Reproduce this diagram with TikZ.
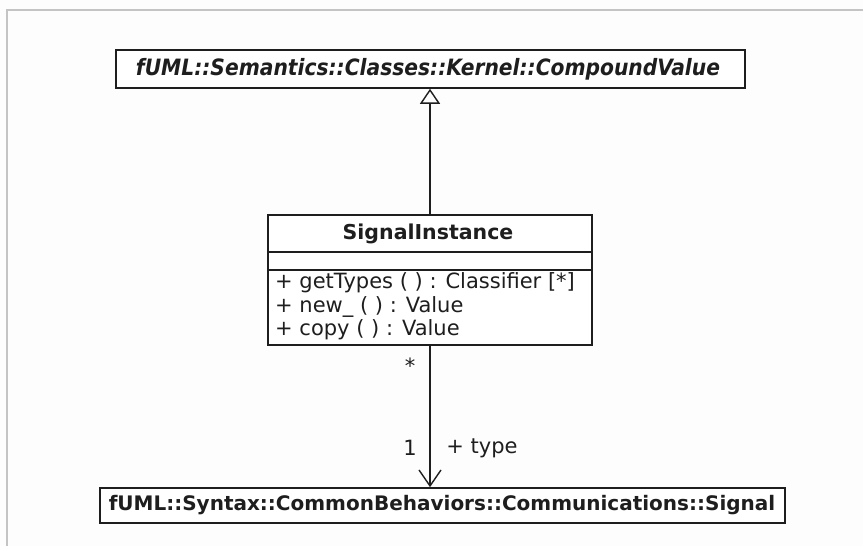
\documentclass[tikz,border=0pt]{standalone}
\usepackage{fontspec}
\setmainfont{DejaVu Sans}
\newfontfamily\condfont{DejaVu Sans Condensed}
\usetikzlibrary{arrows.meta}
\definecolor{ink}{HTML}{1E1E1E}
\definecolor{frame}{HTML}{C4C4C4}
\definecolor{paper}{HTML}{FDFDFD}
\tikzset{
  classbox/.style={draw=ink, line width=1.6pt, inner sep=0pt, fill=white},
  txt/.style={inner sep=0pt, text=ink, font=\fontsize{21}{23.5}\selectfont},
  conn/.style={draw=ink, line width=1.4pt},
}
\begin{document}
\begin{tikzpicture}[x=1pt, y=-1pt]
\fill[paper] (0,0) rectangle (863,546);
\useasboundingbox (0,0) rectangle (863,546);
\draw[frame, line width=1.5pt] (7,546) -- (7,10) -- (863,10);

% top class
\node[classbox, minimum width=629pt, minimum height=38pt] (top) at (430.5,69) {};
\node[txt, font=\fontsize{22.5}{24}\selectfont\condfont\bfseries\itshape] (toptxt) at (428,69.5) {fUML::Semantics::Classes::Kernel::CompoundValue};

% SignalInstance class
\node[classbox, minimum width=324pt, minimum height=130pt] (si) at (430,280) {};
\node[txt, font=\fontsize{20.5}{23.5}\selectfont\bfseries] (siname) at (428,234) {SignalInstance};
\coordinate (l1) at (268,252);
\coordinate (l2) at (268,270);
\draw[ink, line width=1.5pt] (l1) -- (l1 -| si.east);
\draw[ink, line width=1.5pt] (l2) -- (l2 -| si.east);
\node[txt, anchor=mid west] (op1) at (275,286) {+ getTypes ( ) : Classifier [*]};
\node[txt, anchor=mid west] (op2) at (275,309.5) {+ new\_ ( ) : Value};
\node[txt, anchor=mid west] (op3) at (275,333) {+ copy ( ) : Value};

% bottom class
\node[classbox, minimum width=685pt, minimum height=35pt] (bot) at (442.5,505.5) {};
\node[txt, font=\fontsize{20}{23.5}\selectfont\bfseries] (bottxt) at (442,505.5) {fUML::Syntax::CommonBehaviors::Communications::Signal};

% generalization
\draw[conn, -{Triangle[open, length=15pt, width=20pt, line width=1.4pt]}] (si.north) -- (si.north |- top.south);

% association
\draw[conn, -{Straight Barb[length=16pt, width=22pt, line width=1.4pt]}] (si.south) -- (si.south |- bot.north);
\node[txt] (mstar) at (410,366) {*};
\node[txt] (mone) at (410,448) {1};
\node[txt] (role) at (482,448) {+ type};
\end{tikzpicture}
\end{document}
